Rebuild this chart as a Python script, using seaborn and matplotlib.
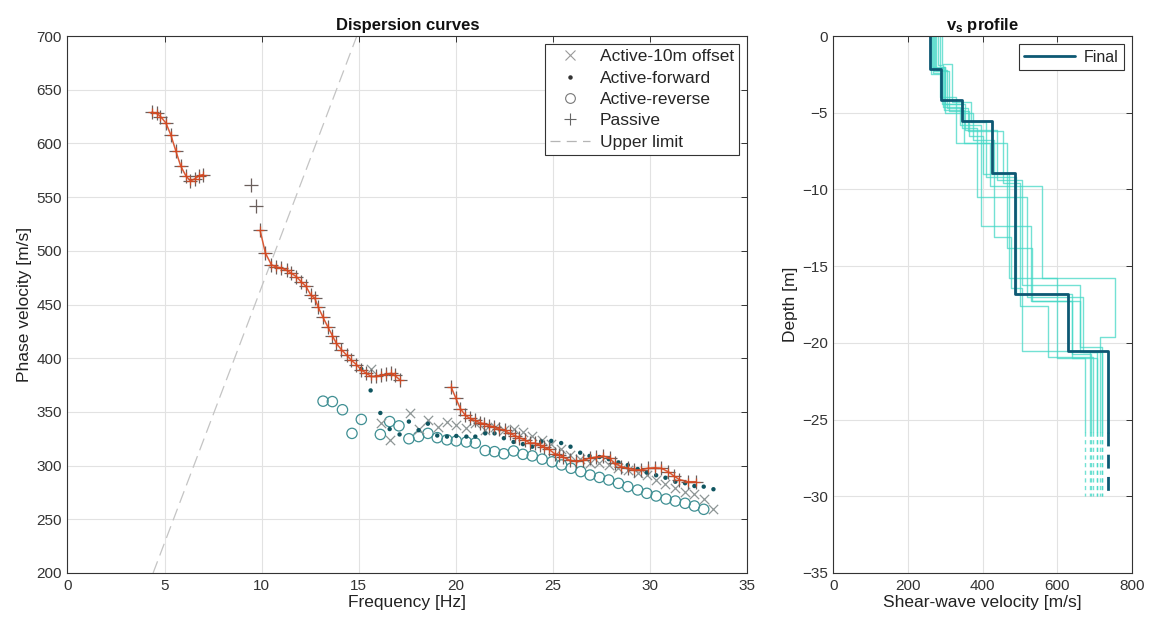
import numpy as np
import pandas as pd
import matplotlib
matplotlib.use("Agg")
import matplotlib.pyplot as plt
from matplotlib.lines import Line2D
import seaborn as sns

# ---------------- dispersion data ----------------
# Active-10m offset
off_f = [15.65, 16.16, 16.59, 17.62, 18.10, 18.56, 19.07, 19.54, 20.02, 20.54, 21.00, 21.51,
         21.99, 22.47, 22.97, 23.45, 23.93, 24.42, 24.91, 25.42, 25.90, 26.40, 26.88, 27.39,
         27.87, 28.37, 28.85, 29.36, 29.83, 30.31, 30.79, 31.30, 31.80, 32.28, 32.76, 33.26]
off_v = [389.7, 339.5, 324.0, 348.7, 334.0, 342.5, 336.3, 341.0, 338.0, 335.0, 339.4, 333.0,
         336.0, 333.0, 334.0, 331.6, 328.0, 324.0, 320.0, 315.0, 310.0, 306.0, 302.7, 302.0,
         300.6, 297.5, 296.0, 293.0, 291.2, 286.6, 282.6, 279.5, 275.7, 273.6, 268.6, 260.0]

# Active-forward
fwd_f = [15.13, 15.61, 16.11, 16.59, 17.10, 17.58, 18.08, 18.56, 19.04, 19.54, 20.02, 20.54,
         21.00, 21.51, 21.99, 22.47, 22.97, 23.45, 23.93, 24.39, 24.91, 25.42, 25.90, 26.40,
         26.88, 27.39, 27.87, 28.37, 28.85, 29.36, 29.83, 30.31, 30.79, 31.30, 31.80, 32.28,
         32.76, 33.26]
fwd_v = [390.0, 370.0, 349.0, 334.0, 329.0, 341.0, 333.0, 339.0, 328.0, 327.0, 327.6, 327.0,
         327.0, 330.0, 330.0, 325.5, 322.0, 320.0, 317.6, 322.5, 323.0, 321.0, 317.6, 312.0,
         309.0, 308.0, 306.0, 303.0, 300.5, 296.8, 293.6, 291.0, 288.7, 285.0, 283.6, 281.0,
         280.4, 278.0]

# Active-reverse
rev_f = [13.16, 13.64, 14.16, 14.65, 15.13, 16.11, 16.59, 17.07, 17.58, 18.08, 18.56, 19.04,
         19.54, 20.02, 20.54, 21.00, 21.51, 21.99, 22.47, 22.97, 23.45, 23.93, 24.44, 24.95,
         25.44, 25.93, 26.43, 26.91, 27.39, 27.87, 28.37, 28.85, 29.36, 29.83, 30.31, 30.82,
         31.30, 31.80, 32.28, 32.76]
rev_v = [360.0, 359.6, 352.0, 330.0, 343.0, 329.0, 341.0, 337.0, 325.0, 327.0, 330.0, 326.0,
         324.0, 323.0, 322.0, 321.0, 314.0, 313.0, 311.0, 313.6, 310.5, 309.0, 306.0, 303.5,
         300.6, 297.5, 294.4, 291.2, 289.0, 286.6, 283.5, 280.4, 277.3, 274.2, 271.7, 268.9,
         267.0, 264.9, 262.4, 259.3]

# Passive picks, split into the branches that carry the picked curve
pas_a_f = [4.34, 4.59, 4.79, 5.07, 5.32, 5.58, 5.83, 6.09, 6.33, 6.56, 6.78, 6.99]
pas_a_v = [629, 628, 625, 619, 608, 593, 579, 570, 565, 567, 570, 571]
pas_iso_f = [9.47, 9.73]
pas_iso_v = [561, 542]
pas_b_f = [9.92, 10.19, 10.50, 10.75, 11.01, 11.28, 11.53, 11.78, 12.04, 12.28, 12.52, 12.73,
           12.90, 13.16, 13.41, 13.64, 13.84, 14.10, 14.37, 14.62, 14.88, 15.13, 15.39, 15.64,
           15.90, 16.15, 16.41, 16.68, 16.85, 17.11]
pas_b_v = [519, 498, 487, 485, 484, 482, 479, 476, 471, 467, 459, 456, 448, 438, 429, 421, 414,
           408, 403, 398, 394, 389, 386, 383, 383, 384, 385, 386, 384, 380]
pas_c_f = [19.76, 19.99, 20.23, 20.48, 20.71, 20.96, 21.22, 21.47, 21.73, 21.98, 22.24, 22.51,
           22.76, 23.02, 23.27, 23.54, 23.80, 24.05, 24.31, 24.55, 24.80, 25.09, 25.31, 25.51,
           25.86, 26.19, 26.53, 26.89, 27.23, 27.57, 27.91, 28.17, 28.51, 28.86, 29.19, 29.53,
           29.87, 30.23, 30.57, 30.91, 31.25, 31.50, 31.93, 32.36]
pas_c_v = [373, 363, 353, 347, 344, 342, 340, 339, 337, 336, 334, 333, 330, 328, 326, 324, 321,
           321, 319, 317, 315, 311, 310, 308, 305, 304, 305, 307, 308, 309, 307, 302, 299, 297.5,
           296, 296, 297.5, 298, 297.5, 294.5, 290, 287, 285, 285]

# Upper limit line end points
lim_f = [4.41, 14.90]
lim_v = [200, 700]

# ---------------- shear-wave velocity profiles ----------------
final_vs = [259, 289, 346, 426, 487, 628, 737]
final_z = [2.15, 4.20, 5.54, 8.95, 16.84, 20.50]

ens_vs = [
    [265, 300, 352, 440, 505, 660, 720],
    [270, 310, 365, 400, 470, 600, 706],
    [280, 295, 340, 395, 530, 640, 690],
    [262, 285, 330, 420, 560, 755, 715],
    [275, 305, 360, 455, 500, 575, 697],
    [285, 300, 375, 430, 475, 505, 688],
    [268, 292, 345, 385, 520, 670, 720],
    [290, 318, 368, 410, 490, 639, 675],
    [272, 296, 350, 465, 532, 661, 706],
]
ens_z = [
    [2.0, 4.4, 6.1, 9.4, 16.2, 20.3],
    [2.3, 4.9, 6.5, 9.0, 15.8, 21.0],
    [1.9, 4.6, 5.8, 12.4, 17.3, 20.7],
    [2.5, 4.0, 7.0, 9.8, 15.8, 19.6],
    [2.2, 4.7, 6.2, 9.6, 17.6, 20.9],
    [2.0, 5.0, 6.8, 13.1, 16.4, 20.5],
    [2.4, 4.4, 6.0, 10.5, 17.0, 20.6],
    [1.8, 4.3, 5.6, 9.2, 16.8, 21.0],
    [2.1, 4.8, 7.0, 13.8, 17.3, 20.6],
]
solid_bottom = 25.8
dashed_bottom = 30.0


def step_profile(vs, z, bottom):
    """Staircase coordinates (velocity, negative depth) for a layered model."""
    xs, ys = [vs[0]], [0.0]
    for v_top, v_bot, d in zip(vs[:-1], vs[1:], z):
        xs += [v_top, v_bot]
        ys += [-d, -d]
    xs.append(vs[-1])
    ys.append(-bottom)
    return xs, ys


# ---------------- styling ----------------
sns.set_theme(style="whitegrid")
plt.rcParams["font.family"] = ["Liberation Sans", "DejaVu Sans"]
plt.rcParams["mathtext.fontset"] = "custom"
plt.rcParams["mathtext.bf"] = "Liberation Sans:bold"
plt.rcParams["mathtext.rm"] = "Liberation Sans"

AX_COL = "#333333"
GRID_COL = "#e2e2e2"
LABEL_FS = 12.5
TICK_FS = 11

fig = plt.figure(figsize=(11.51, 6.25), dpi=100)
ax1 = fig.add_axes([0.0586, 0.0832, 0.5906, 0.8592])
ax2 = fig.add_axes([0.7240, 0.0832, 0.2593, 0.8592])

for ax in (ax1, ax2):
    ax.set_facecolor("white")
    ax.grid(True, color=GRID_COL, lw=0.8)
    for sp in ax.spines.values():
        sp.set_visible(True)
        sp.set_color(AX_COL)
        sp.set_linewidth(0.8)
    ax.tick_params(direction="in", top=True, right=True, length=4, width=0.7,
                   colors=AX_COL, labelsize=TICK_FS, pad=4)

# ---------------- left: dispersion curves ----------------
sns.lineplot(x=lim_f, y=lim_v, ax=ax1, color="#c4c4c4", lw=0.9,
             linestyle=(0, (10, 5)), sort=False, estimator=None)

sns.scatterplot(x=rev_f, y=rev_v, ax=ax1, marker="o", s=55, facecolor="none",
                edgecolor="#3f8f93", linewidth=0.9, zorder=3)
sns.scatterplot(x=off_f, y=off_v, ax=ax1, marker="x", s=45, color="#8e9696",
                linewidth=0.9, zorder=3)
sns.scatterplot(x=fwd_f, y=fwd_v, ax=ax1, marker="o", s=10, color="#0f5560",
                edgecolor="none", zorder=4)

for pf, pv in ((pas_a_f, pas_a_v), (pas_iso_f, pas_iso_v), (pas_b_f, pas_b_v), (pas_c_f, pas_c_v)):
    sns.scatterplot(x=pf, y=pv, ax=ax1, marker="+", s=90, color="#6a5f5c",
                    linewidth=0.9, zorder=4)
for pf, pv in ((pas_a_f, pas_a_v), (pas_b_f, pas_b_v), (pas_c_f, pas_c_v)):
    sns.lineplot(x=pf, y=pv, ax=ax1, color="#d64a22", lw=1.1, sort=False,
                 estimator=None, marker="+", markersize=6, markeredgewidth=0.9,
                 markeredgecolor="#d64a22", alpha=0.9, zorder=5)

ax1.set_xlim(0, 35)
ax1.set_ylim(200, 700)
ax1.set_xticks(np.arange(0, 36, 5))
ax1.set_yticks(np.arange(200, 701, 50))
ax1.set_xlabel("Frequency [Hz]", fontsize=LABEL_FS, color="#222222", labelpad=2)
ax1.set_ylabel("Phase velocity [m/s]", fontsize=LABEL_FS, color="#222222", labelpad=3)
ax1.set_title("Dispersion curves", fontsize=12, fontweight="bold", color="#111111", pad=4)

leg_handles = [
    Line2D([], [], ls="none", marker="x", ms=6.5, mew=0.8, color="#9a9a9a"),
    Line2D([], [], ls="none", marker="o", ms=2.2, color="#333333"),
    Line2D([], [], ls="none", marker="o", ms=7, mfc="none", mec="#777777", mew=0.8),
    Line2D([], [], ls="none", marker="+", ms=9, mew=0.8, color="#666666"),
    Line2D([], [], ls=(0, (8, 5)), lw=0.9, color="#b5b5b5"),
]
leg_labels = ["Active-10m offset", "Active-forward", "Active-reverse", "Passive", "Upper limit"]
leg1 = ax1.legend(leg_handles, leg_labels, loc="upper right", fontsize=12.5,
                  frameon=True, fancybox=False, edgecolor=AX_COL, framealpha=1,
                  borderaxespad=0.45, handlelength=2.3, labelspacing=0.36,
                  borderpad=0.3, handletextpad=0.6)
leg1.get_frame().set_linewidth(0.8)

# ---------------- right: Vs profiles ----------------
rows = []
tails = []
for k, (vs, z) in enumerate(zip(ens_vs, ens_z)):
    xs, ys = step_profile(vs, z, solid_bottom)
    rows += [{"model": k, "vs": x, "depth": y} for x, y in zip(xs, ys)]
    tails += [{"model": k, "vs": vs[-1], "depth": -solid_bottom},
              {"model": k, "vs": vs[-1], "depth": -dashed_bottom}]
ens_df = pd.DataFrame(rows)
tail_df = pd.DataFrame(tails)

sns.lineplot(data=ens_df, x="vs", y="depth", units="model", estimator=None, sort=False,
             ax=ax2, color="#44d8c6", lw=1.0, alpha=0.75)
sns.lineplot(data=tail_df, x="vs", y="depth", units="model", estimator=None, sort=False,
             ax=ax2, color="#44d8c6", lw=1.0, alpha=0.75, linestyle=(0, (3, 2.5)))

fx, fy = step_profile(final_vs, final_z, solid_bottom)
sns.lineplot(x=fx, y=fy, ax=ax2, color="#0d5873", lw=2.0, sort=False, estimator=None)
sns.lineplot(x=[final_vs[-1], final_vs[-1]], y=[-solid_bottom, -dashed_bottom], ax=ax2,
             color="#0d5873", lw=2.0, sort=False, estimator=None, linestyle=(0, (5, 3)))

ax2.set_xlim(0, 800)
ax2.set_ylim(-35, 0)
ax2.set_xticks(np.arange(0, 801, 200))
ax2.set_yticks(np.arange(-35, 1, 5))
ax2.set_xlabel("Shear-wave velocity [m/s]", fontsize=LABEL_FS, color="#222222", labelpad=2)
ax2.set_ylabel("Depth [m]", fontsize=LABEL_FS, color="#222222", labelpad=3)
ax2.set_title(r"$\mathbf{v_s}$ profile", fontsize=12, fontweight="bold", color="#111111", pad=4)

leg2 = ax2.legend([Line2D([], [], color="#0d5873", lw=2.0)], ["Final"], loc="upper right",
                  fontsize=11.5, frameon=True, fancybox=False, edgecolor=AX_COL, framealpha=1,
                  borderaxespad=0.5, handlelength=3.2, borderpad=0.35, handletextpad=0.5)
leg2.get_frame().set_linewidth(0.8)

fig.savefig("out.png", dpi=100, facecolor="white")
